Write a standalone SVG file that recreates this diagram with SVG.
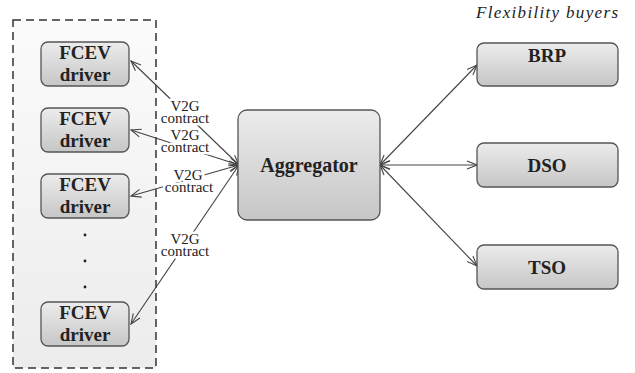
<svg xmlns="http://www.w3.org/2000/svg" width="635" height="373" viewBox="0 0 635 373">
<defs>
<linearGradient id="boxg" x1="0" y1="0" x2="0" y2="1">
<stop offset="0" stop-color="#ececec"/>
<stop offset="1" stop-color="#c6c6c6"/>
</linearGradient>
<linearGradient id="bgg" x1="0" y1="0" x2="0" y2="1">
<stop offset="0" stop-color="#fbfbfb"/>
<stop offset="1" stop-color="#ececec"/>
</linearGradient>
<marker id="arr" viewBox="0 0 12 10" refX="11" refY="5" markerWidth="12" markerHeight="10" markerUnits="userSpaceOnUse" orient="auto-start-reverse">
<path d="M1,1 L11,5 L1,9" fill="none" stroke="#444" stroke-width="1.1"/>
</marker>
</defs>
<style>
.box{fill:url(#boxg);stroke:#555;stroke-width:1.3}
.t{font-family:"Liberation Serif","Times New Roman",serif;font-weight:bold;fill:#222;text-anchor:middle}
.lbl{font-family:"Liberation Serif","Times New Roman",serif;font-size:15px;fill:#222;text-anchor:middle;stroke:#fff;stroke-width:5;paint-order:stroke;stroke-linejoin:round}
.c{fill:none;stroke:#444;stroke-width:1.1;marker-start:url(#arr);marker-end:url(#arr)}
</style>
<rect id="container" x="13" y="20" width="143" height="348" fill="url(#bgg)" stroke="#333" stroke-width="1.5" stroke-dasharray="8,5"/>
<text x="618" y="18" text-anchor="end" font-family="Liberation Serif, Times New Roman, serif" font-style="italic" font-size="17" fill="#222" textLength="142">Flexibility buyers</text>
<g id="connectors">
<line class="c" x1="131" y1="61" x2="239" y2="165"/>
<line class="c" x1="131" y1="130" x2="239" y2="165"/>
<line class="c" x1="131" y1="196" x2="239" y2="165"/>
<line class="c" x1="131" y1="324" x2="239" y2="165"/>
<line class="c" x1="380" y1="165" x2="477" y2="65"/>
<line class="c" x1="380" y1="165" x2="477" y2="165"/>
<line class="c" x1="380" y1="165" x2="477" y2="266"/>
<text class="lbl" x="185" y="111">V2G</text>
<text class="lbl" x="185" y="123">contract</text>
<text class="lbl" x="185" y="140">V2G</text>
<text class="lbl" x="185" y="152">contract</text>
<text class="lbl" x="188" y="180">V2G</text>
<text class="lbl" x="189" y="192">contract</text>
<text class="lbl" x="185" y="244">V2G</text>
<text class="lbl" x="185" y="256">contract</text>
</g>
<g id="driver1"><rect class="box" x="41" y="42" width="88" height="44" rx="7"/><text class="t" x="85" y="59" font-size="19">FCEV</text><text class="t" x="85" y="81" font-size="19">driver</text></g>
<g id="driver2"><rect class="box" x="41" y="108" width="88" height="44" rx="7"/><text class="t" x="85" y="125" font-size="19">FCEV</text><text class="t" x="85" y="147" font-size="19">driver</text></g>
<g id="driver3"><rect class="box" x="41" y="174" width="88" height="44" rx="7"/><text class="t" x="85" y="191" font-size="19">FCEV</text><text class="t" x="85" y="213" font-size="19">driver</text></g>
<g id="dots" fill="#222"><circle cx="85" cy="235" r="1.4"/><circle cx="85" cy="261" r="1.4"/><circle cx="85" cy="287" r="1.4"/></g>
<g id="driver4"><rect class="box" x="41" y="302" width="88" height="44" rx="7"/><text class="t" x="85" y="319" font-size="19">FCEV</text><text class="t" x="85" y="341" font-size="19">driver</text></g>
<g id="aggregator"><rect class="box" x="238" y="110" width="142" height="110" rx="9"/><text class="t" x="309" y="172" font-size="20">Aggregator</text></g>
<g id="brp"><rect class="box" x="477" y="43" width="141" height="43" rx="7"/><text class="t" x="547" y="62" font-size="19">BRP</text></g>
<g id="dso"><rect class="box" x="477" y="143" width="141" height="44" rx="7"/><text class="t" x="547" y="172" font-size="19">DSO</text></g>
<g id="tso"><rect class="box" x="477" y="245" width="141" height="44" rx="7"/><text class="t" x="547" y="274" font-size="19">TSO</text></g>
</svg>
